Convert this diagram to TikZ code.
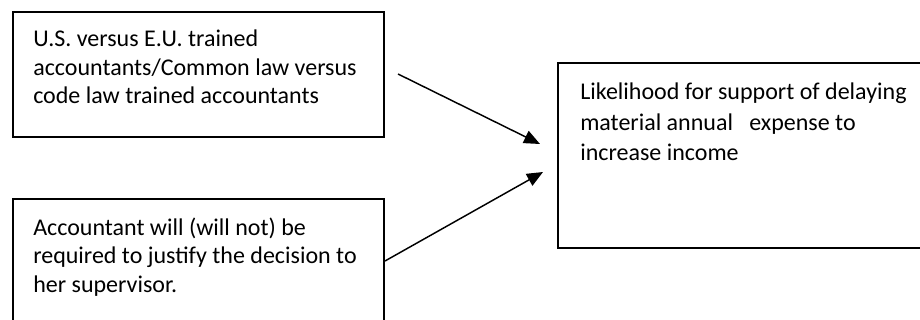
\documentclass[tikz,border=0pt]{standalone}
\usepackage{fontspec}
\setmainfont{Carlito}
\usetikzlibrary{arrows.meta,fit}
\begin{document}
\begin{tikzpicture}[x=0.75pt,y=-0.75pt,
  box/.style={draw,line width=1.5pt,inner sep=0pt,rectangle},
  txt/.style={anchor=base west,inner sep=0pt,align=left,font=\fontsize{18}{21.2}\selectfont},
  txtb/.style={anchor=base west,inner sep=0pt,align=left,font=\fontsize{18}{23.2}\selectfont},
  conn/.style={line width=1.1pt,-{Triangle[length=12pt,width=10pt]}}]
\useasboundingbox (0,0) rectangle (920,320);
\node[box,fit={(13,12) (384,137)}] (b1) {};
\node[box,fit={(13,199) (384,335)}] (b2) {};
\node[box,fit={(558,63) (930,248)}] (b3) {};
\node[txt] (t1) at (33,103.3) {U.S. versus E.U. trained\\accountants/Common law versus\\code law trained accountants};
\node[txt] (t2) at (33,292) {Accountant will (will not) be\\required to justify the decision to\\her supervisor.};
\node[txtb] (t3) at (580,161) {Likelihood for support of delaying\\material annual\ \ \ expense to\\increase income};
\coordinate (a1s) at (398,74);
\coordinate (a1e) at (540,144);
\coordinate (a2s) at (b2.east |- 0,261);
\coordinate (a2e) at (543,172);
\draw[conn] (a1s) -- (a1e);
\draw[conn] (a2s) -- (a2e);
\end{tikzpicture}
\end{document}
